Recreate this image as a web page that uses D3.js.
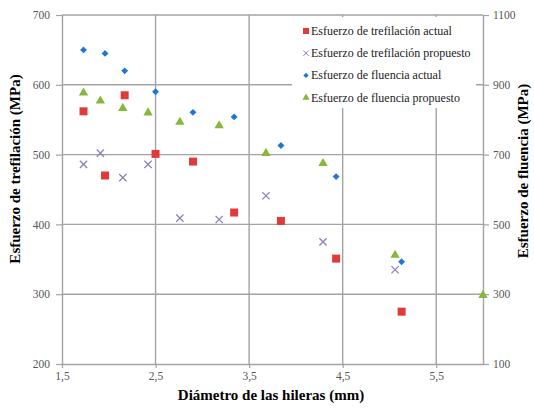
<!DOCTYPE html>
<html>
<head>
<meta charset="utf-8">
<script src="https://cdn.jsdelivr.net/npm/d3@7"></script>
<style>
  body { margin: 0; background: #fff; }
  svg text { font-family: "Liberation Serif", serif; }
</style>
</head>
<body>
<svg id="chart" width="534" height="411"></svg>
<script>
// diámetro (mm) de cada serie
const xTrefActual = [1.73, 1.96, 2.17, 2.5, 2.9, 3.34, 3.84, 4.43, 5.13];
const trefActual = [562, 470, 585, 501, 490, 417, 405, 351, 275];

const xTrefProp = [1.73, 1.91, 2.15, 2.42, 2.76, 3.18, 3.68, 4.29, 5.06];
const trefProp = [486, 502, 467, 486, 409, 407, 441, 375, 335];

const xFluActual = [1.73, 1.96, 2.17, 2.5, 2.9, 3.34, 3.84, 4.43, 5.13];
const fluActual = [1000, 990, 940, 880, 821, 808, 726, 637, 393];

const xFluProp = [1.73, 1.91, 2.15, 2.42, 2.76, 3.18, 3.68, 4.29, 5.06, 6.0];
const fluProp = [877, 854, 833, 820, 793, 783, 704, 675, 412, 297];

const xTicks = [1.5, 2.5, 3.5, 4.5, 5.5];
const yLeftTicks = [200, 300, 400, 500, 600, 700];
const yRightTicks = [100, 300, 500, 700, 900, 1100];

const legendLabels = [
  "Esfuerzo de trefilación actual",
  "Esfuerzo de trefilación propuesto",
  "Esfuerzo de fluencia actual",
  "Esfuerzo de fluencia propuesto"
];

const red = "#e03a3a", purple = "#8e80bd", blue = "#1f78cf", green = "#86b83c";
const gridColor = "#a3a3a3";
const serif = "Liberation Serif";

const svg = d3.select("#chart");
const x = d3.scaleLinear().domain([1.5, 6]).range([62, 483]);
const yL = d3.scaleLinear().domain([200, 700]).range([364, 15]);
const yR = d3.scaleLinear().domain([100, 1100]).range([364, 15]);
const fmt = d => String(d).replace(".", ",");

// gridlines
svg.append("g").selectAll("line")
  .data(xTicks.slice(1))
  .enter().append("line")
  .attr("x1", d => x(d)).attr("x2", d => x(d))
  .attr("y1", yL(700)).attr("y2", yL(200))
  .attr("stroke", gridColor).attr("stroke-width", 1.4);
svg.append("g").selectAll("line")
  .data(yLeftTicks.slice(1))
  .enter().append("line")
  .attr("x1", x(1.5)).attr("x2", x(6))
  .attr("y1", d => yL(d)).attr("y2", d => yL(d))
  .attr("stroke", gridColor).attr("stroke-width", 1.4);

// axes
const axisStyle = g => {
  g.attr("font-family", serif).attr("font-size", 11.5);
  g.select(".domain").attr("stroke", gridColor).attr("stroke-width", 1.4);
  g.selectAll(".tick line").attr("stroke", gridColor).attr("stroke-width", 1.2);
  g.selectAll(".tick text").attr("fill", "#555");
};
svg.append("g").attr("transform", `translate(0,${yL(200)})`)
  .call(d3.axisBottom(x).tickValues(xTicks).tickFormat(fmt).tickSize(4).tickSizeOuter(0).tickPadding(4))
  .call(axisStyle);
svg.append("g").attr("transform", `translate(${x(1.5)},0)`)
  .call(d3.axisLeft(yL).tickValues(yLeftTicks).tickFormat(d => d).tickSize(6).tickSizeOuter(0).tickPadding(6))
  .call(axisStyle);
svg.append("g").attr("transform", `translate(${x(6)},0)`)
  .call(d3.axisRight(yR).tickValues(yRightTicks).tickFormat(d => d).tickSize(6).tickSizeOuter(0).tickPadding(4))
  .call(axisStyle);

// axis titles
svg.append("text").attr("x", 271).attr("y", 400).attr("text-anchor", "middle")
  .attr("font-family", serif).style("font-size", "15px").style("font-weight", "bold")
  .text("Diámetro de las hileras (mm)");
svg.append("text").attr("transform", "translate(20,169) rotate(-90)").attr("text-anchor", "middle")
  .attr("font-family", serif).style("font-size", "15px").style("font-weight", "bold")
  .text("Esfuerzo de trefilación (MPa)");
svg.append("text").attr("transform", "translate(528,171) rotate(-90)").attr("text-anchor", "middle")
  .attr("font-family", serif).style("font-size", "15px").style("font-weight", "bold")
  .text("Esfuerzo de fluencia (MPa)");

// legend box
svg.append("rect").attr("x", 292).attr("y", 17).attr("width", 184).attr("height", 91).attr("fill", "#fff");

// markers
const square = d3.symbol().type(d3.symbolSquare).size(64);
const diamond = d3.symbol().type(d3.symbolDiamond2).size(30);
const triangle = d3.symbol().type(d3.symbolTriangle).size(38);
const cross = d3.symbol().type(d3.symbolX).size(36);

svg.append("g").selectAll("path")
  .data(trefActual).enter().append("path")
  .attr("transform", (d, i) => `translate(${x(xTrefActual[i])},${yL(d)})`)
  .attr("d", square).attr("fill", red);
svg.append("g").selectAll("path")
  .data(trefProp).enter().append("path")
  .attr("transform", (d, i) => `translate(${x(xTrefProp[i])},${yL(d)})`)
  .attr("d", cross).attr("fill", "none").attr("stroke", purple).attr("stroke-width", 1.3);
svg.append("g").selectAll("path")
  .data(fluActual).enter().append("path")
  .attr("transform", (d, i) => `translate(${x(xFluActual[i])},${yR(d)})`)
  .attr("d", diamond).attr("fill", blue);
svg.append("g").selectAll("path")
  .data(fluProp).enter().append("path")
  .attr("transform", (d, i) => `translate(${x(xFluProp[i])},${yR(d)})`)
  .attr("d", triangle).attr("fill", green);

// legend entries
const legendSyms = [
  { sym: d3.symbol().type(d3.symbolSquare).size(36), fill: red, stroke: "none" },
  { sym: d3.symbol().type(d3.symbolX).size(20), fill: "none", stroke: purple },
  { sym: d3.symbol().type(d3.symbolDiamond2).size(18), fill: blue, stroke: "none" },
  { sym: d3.symbol().type(d3.symbolTriangle).size(22), fill: green, stroke: "none" }
];
const legend = svg.append("g");
legend.selectAll("path")
  .data(legendSyms).enter().append("path")
  .attr("transform", (d, i) => `translate(306,${31 + i * 22.2})`)
  .attr("d", d => d.sym()).attr("fill", d => d.fill).attr("stroke", d => d.stroke).attr("stroke-width", 1);
legend.selectAll("text")
  .data(legendLabels).enter().append("text")
  .attr("x", 311).attr("y", (d, i) => 35 + i * 22.2)
  .attr("font-family", serif).style("font-size", "12px").attr("fill", "#222")
  .text(d => d);
</script>
</body>
</html>
